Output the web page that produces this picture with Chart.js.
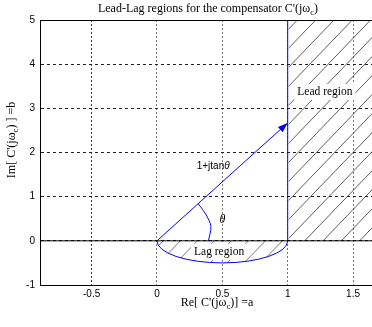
<!DOCTYPE html>
<html><head><meta charset="utf-8">
<script src="https://cdn.jsdelivr.net/npm/chart.js@4.4.1/dist/chart.umd.min.js"></script>
<style>html,body{margin:0;padding:0;background:#fff;}#wrap{width:372px;height:327px;}</style>
</head><body><div id="wrap"><canvas id="c" width="372" height="327"></canvas></div>
<script>
// ---- data ----
const xTicks = [-0.5, 0, 0.5, 1, 1.5];
const yTicks = [-1, 0, 1, 2, 3, 4, 5];
const xRange = [-0.895, 1.645];
const yRange = [-1, 5];
// phasor 1 + j tan(theta)
const phasorX = [0, 1];
const phasorY = [0, 2.67];
// lead-region boundary (Re = 1, Im >= 0)
const leadX = [1, 1];
const leadY = [0, 5];
// real axis
const realAxisX = [-0.895, 1.645];
const realAxisY = [0, 0];
// theta angle arc
const arcX = [0.316, 0.367, 0.400, 0.413, 0.405, 0.393];
const arcY = [0.84, 0.63, 0.45, 0.32, 0.15, 0];
// lag region: lower half of circle
const lagCenter = [0.5, 0];
const lagRadius = 0.5;
// label positions
const labels = [
  {text: 'Lead region', x: 1.285, y: 3.37, box: true},
  {text: 'Lag region', x: 0.475, y: -0.25, box: true}
];

const pts = (xs, ys) => xs.map((x, i) => ({x, y: ys[i]}));
const BLUE = '#0000ff';
const SERIF = '"Liberation Serif", "Times New Roman", serif';
const SANS = '"Liberation Sans", Arial, sans-serif';

function drawRich(ctx, parts, x, y, size) {
  let w = 0;
  parts.forEach(p => {
    ctx.font = (p.sub ? size * 0.72 : size) + 'px ' + SERIF;
    p.w = ctx.measureText(p.t).width; w += p.w;
  });
  let cx = x - w / 2;
  ctx.textAlign = 'left'; ctx.textBaseline = 'middle';
  parts.forEach(p => {
    ctx.font = (p.sub ? size * 0.72 : size) + 'px ' + SERIF;
    ctx.fillText(p.t, cx, y + (p.sub ? size * 0.3 : 0));
    cx += p.w;
  });
}

const decor = {
  id: 'decor',
  beforeDatasetsDraw(chart) {
    const {ctx, chartArea: ca, scales: {x, y}} = chart;
    ctx.save();
    ctx.beginPath(); ctx.rect(ca.left, ca.top, ca.right - ca.left, ca.bottom - ca.top); ctx.clip();
    // lead region hatch
    ctx.save();
    const lx0 = x.getPixelForValue(leadX[0]), ly0 = y.getPixelForValue(leadY[0]), ly1 = y.getPixelForValue(leadY[1]);
    ctx.beginPath(); ctx.rect(lx0 + 1, ly1, ca.right - lx0, ly0 - ly1); ctx.clip();
    ctx.strokeStyle = '#333'; ctx.lineWidth = 0.8;
    const s = 1.04, sp = 18.3, H = ly0 - ly1;
    for (let bx = lx0 + 17 - 20 * sp; bx < ca.right + 20; bx += sp) {
      ctx.beginPath(); ctx.moveTo(bx, ly0); ctx.lineTo(bx + H / s, ly1); ctx.stroke();
    }
    ctx.restore();
    // lag region hatch
    ctx.save();
    const cx = x.getPixelForValue(lagCenter[0]), cy = y.getPixelForValue(lagCenter[1]);
    const rx = x.getPixelForValue(lagCenter[0] + lagRadius) - cx;
    const ry = y.getPixelForValue(lagCenter[1] - lagRadius) - cy;
    ctx.beginPath(); ctx.ellipse(cx, cy, rx, ry, 0, 0, Math.PI); ctx.closePath(); ctx.clip();
    ctx.strokeStyle = '#555'; ctx.lineWidth = 0.8;
    for (let bx = cx + 43 - 20 * 17; bx < cx + rx + 40; bx += 17) {
      ctx.beginPath(); ctx.moveTo(bx, cy); ctx.lineTo(bx - 60 / s, cy + 60); ctx.stroke();
    }
    ctx.restore();
    // white boxes behind labels
    ctx.font = '11.5px ' + SERIF;
    labels.forEach(l => {
      const px = x.getPixelForValue(l.x), py = y.getPixelForValue(l.y);
      const w = ctx.measureText(l.text).width;
      ctx.fillStyle = '#fff';
      ctx.fillRect(px - w / 2 - 3, py - 8, w + 6, 16);
    });
    ctx.restore();
  },
  afterDatasetsDraw(chart) {
    const {ctx, chartArea: ca, scales: {x, y}} = chart;
    ctx.save();
    ctx.beginPath(); ctx.rect(ca.left, ca.top, ca.right - ca.left, ca.bottom - ca.top); ctx.clip();
    // lag semicircle
    const cx = x.getPixelForValue(lagCenter[0]), cy = y.getPixelForValue(lagCenter[1]);
    const rx = x.getPixelForValue(lagCenter[0] + lagRadius) - cx;
    const ry = y.getPixelForValue(lagCenter[1] - lagRadius) - cy;
    ctx.strokeStyle = BLUE; ctx.lineWidth = 1;
    ctx.beginPath(); ctx.ellipse(cx, cy, rx, ry, 0, 0, Math.PI); ctx.stroke();
    // arrow head
    const x0 = x.getPixelForValue(phasorX[0]), y0 = y.getPixelForValue(phasorY[0]);
    const x1 = x.getPixelForValue(phasorX[1]), y1 = y.getPixelForValue(phasorY[1]);
    const ang = Math.atan2(y1 - y0, x1 - x0);
    const L = 10, W = 3.5;
    ctx.fillStyle = BLUE;
    ctx.beginPath();
    ctx.moveTo(x1, y1);
    ctx.lineTo(x1 - L * Math.cos(ang) - W * Math.sin(ang), y1 - L * Math.sin(ang) + W * Math.cos(ang));
    ctx.lineTo(x1 - L * Math.cos(ang) + W * Math.sin(ang), y1 - L * Math.sin(ang) - W * Math.cos(ang));
    ctx.closePath(); ctx.fill();
    // labels
    ctx.fillStyle = '#000'; ctx.textAlign = 'center'; ctx.textBaseline = 'middle';
    ctx.font = '11.5px ' + SERIF;
    labels.forEach(l => ctx.fillText(l.text, x.getPixelForValue(l.x), y.getPixelForValue(l.y)));
    ctx.font = 'italic 12px ' + SERIF;
    ctx.fillText('θ', x.getPixelForValue(0.5), y.getPixelForValue(0.47));
    // 1+jtanθ
    ctx.textAlign = 'left';
    ctx.font = '10px ' + SANS;
    const t1 = '1+jtan';
    const tw = ctx.measureText(t1).width;
    ctx.font = 'italic 10px ' + SANS;
    const tw2 = ctx.measureText('θ').width;
    const lx = x.getPixelForValue(0.43) - (tw + tw2) / 2, ly = y.getPixelForValue(1.7);
    ctx.font = '10px ' + SANS; ctx.fillText(t1, lx, ly);
    ctx.font = 'italic 10px ' + SANS; ctx.fillText('θ', lx + tw, ly);
    ctx.restore();
    // top border
    ctx.save();
    ctx.strokeStyle = '#000'; ctx.lineWidth = 1;
    ctx.beginPath(); ctx.moveTo(ca.left, ca.top + 0.5); ctx.lineTo(ca.right, ca.top + 0.5); ctx.stroke();
    // title and axis titles
    ctx.fillStyle = '#000';
    drawRich(ctx, [{t: "Lead-Lag regions for the compensator C'(jω"}, {t: 'c', sub: true}, {t: ')'}], 208, 9, 12);
    drawRich(ctx, [{t: "Re[ C'(jω"}, {t: 'c', sub: true}, {t: ')] =a'}], 217, 303, 12);
    ctx.translate(12, 140); ctx.rotate(-Math.PI / 2);
    drawRich(ctx, [{t: "Im[ C'(jω"}, {t: 'c', sub: true}, {t: ') ] =b'}], 0, 0, 12);
    ctx.restore();
  }
};

new Chart(document.getElementById('c'), {
  type: 'scatter',
  data: {
    datasets: [
      {data: pts(realAxisX, realAxisY), showLine: true, borderColor: '#000', borderWidth: 1, pointRadius: 0},
      {data: pts(leadX, leadY), showLine: true, borderColor: BLUE, borderWidth: 1, pointRadius: 0},
      {data: pts(phasorX, phasorY), showLine: true, borderColor: BLUE, borderWidth: 1, pointRadius: 0},
      {data: pts(arcX, arcY), showLine: true, borderColor: BLUE, borderWidth: 1, pointRadius: 0, tension: 0.4}
    ]
  },
  options: {
    responsive: false, animation: false, devicePixelRatio: 1,
    layout: {padding: {top: 20, left: 0, right: 0, bottom: 0}},
    plugins: {legend: {display: false}, tooltip: {enabled: false}, title: {display: false}},
    scales: {
      x: {
        type: 'linear', min: xRange[0], max: xRange[1],
        afterBuildTicks: s => { s.ticks = xTicks.map(v => ({value: v})); },
        afterFit: s => { s.height = 42; },
        ticks: {autoSkip: false, maxRotation: 0, padding: 3, color: '#000', font: {family: SANS, size: 10},
                callback: v => String(v)},
        grid: {drawTicks: false, color: c => (c.tick && c.tick.value === -0.5) ? '#333' : '#777', lineWidth: 1},
        border: {display: true, color: '#000', width: 1, dash: [2, 2]}
      },
      y: {
        type: 'linear', min: yRange[0], max: yRange[1],
        afterBuildTicks: s => { s.ticks = yTicks.map(v => ({value: v})); },
        afterFit: s => { s.width = 40; },
        ticks: {autoSkip: false, padding: 5, color: '#000', font: {family: SANS, size: 10},
                callback: v => String(v)},
        grid: {drawTicks: false, color: '#222', lineWidth: 1},
        border: {display: true, color: '#000', width: 1, dash: [3, 3]}
      }
    }
  },
  plugins: [decor]
});
</script>
</body></html>
